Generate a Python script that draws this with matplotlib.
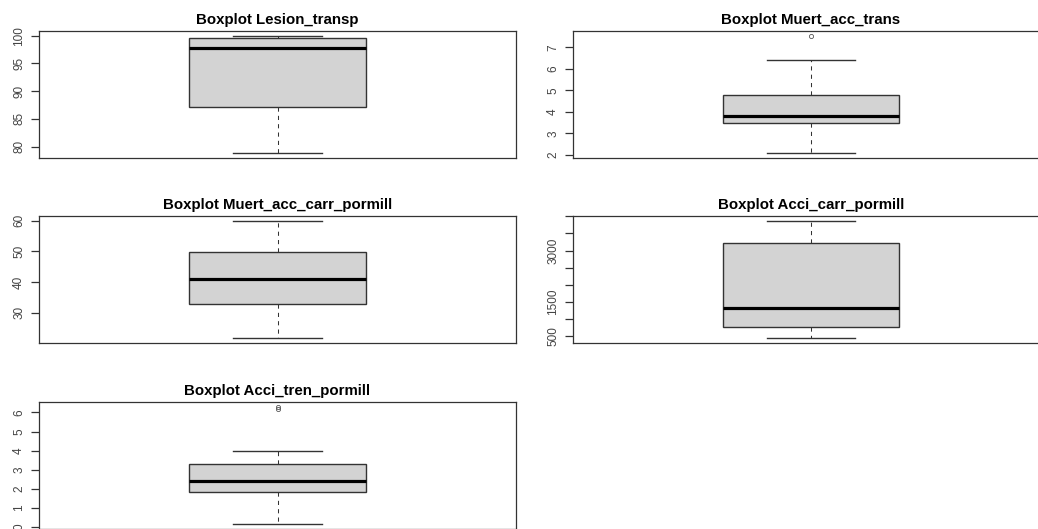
import matplotlib
matplotlib.use("Agg")
import matplotlib.pyplot as plt

plt.rcParams['font.family'] = ['Liberation Sans', 'DejaVu Sans']

titles = ["Boxplot Lesion_transp", "Boxplot Muert_acc_trans",
          "Boxplot Muert_acc_carr_pormill", "Boxplot Acci_carr_pormill",
          "Boxplot Acci_tren_pormill"]
whislo = [78.8, 2.08, 21.7, 442, 0.14]
q1 = [87.2, 3.47, 33.0, 773, 1.83]
med = [97.7, 3.79, 41.0, 1328, 2.39]
q3 = [99.5, 4.78, 49.9, 3221, 3.28]
whishi = [100.0, 6.41, 60.0, 3873, 4.0]
fliers = [[], [7.54], [], [], [6.18, 6.30]]
ytick_vals = [[80, 85, 90, 95, 100],
              [2, 3, 4, 5, 6, 7],
              [30, 40, 50, 60],
              [500, 1000, 1500, 2000, 2500, 3000, 3500, 4000],
              [0, 1, 2, 3, 4, 5, 6]]
ytick_labels = [["80", "85", "90", "95", "100"],
                ["2", "3", "4", "5", "6", "7"],
                ["30", "40", "50", "60"],
                ["500", "", "1500", "", "", "3000", "", ""],
                ["0", "1", "2", "3", "4", "5", "6"]]

W, H = 1038, 529
fig = plt.figure(figsize=(W / 100, H / 100), dpi=100)

# axes boxes in pixels: (left, right, top, bottom)
cols = [(39, 516), (573, 1049)]
rows = [(31, 158), (216, 343), (402, 529)]
pos = [(0, 0), (0, 1), (1, 0), (1, 1), (2, 0)]

frame_col = '#333333'
for i, (r, c) in enumerate(pos):
    l, rr = cols[c]
    t, b = rows[r]
    ax = fig.add_axes([l / W, 1 - b / H, (rr - l) / W, (b - t) / H])
    stats = [dict(med=med[i], q1=q1[i], q3=q3[i], whislo=whislo[i],
                  whishi=whishi[i], fliers=fliers[i])]
    ax.bxp(stats, positions=[1], widths=0.4, capwidths=0.2,
           patch_artist=True,
           boxprops=dict(facecolor='#d3d3d3', edgecolor=frame_col, linewidth=1.0),
           medianprops=dict(color='black', linewidth=2.3, solid_capstyle='butt'),
           whiskerprops=dict(color=frame_col, linewidth=0.75, linestyle=(0, (4, 4))),
           capprops=dict(color=frame_col, linewidth=1.0),
           flierprops=dict(marker='o', markersize=3.0, markerfacecolor='none',
                           markeredgecolor='#555555', markeredgewidth=0.6))
    allv = [whislo[i], whishi[i]] + fliers[i]
    lo, hi = min(allv), max(allv)
    pad = 0.04 * (hi - lo)
    ax.set_ylim(lo - pad, hi + pad)
    ax.set_xlim(0.46, 1.54)
    ax.set_xticks([])
    ax.set_yticks(ytick_vals[i])
    ax.set_yticklabels(ytick_labels[i], rotation=90, va='center',
                       fontsize=8.5, color='#444444')
    ax.tick_params(axis='y', length=6, width=0.9, color=frame_col, pad=4)
    for sp in ax.spines.values():
        sp.set_color(frame_col)
        sp.set_linewidth(0.9)
    ax.set_title(titles[i], fontsize=10.8, fontweight='bold', pad=5)

fig.savefig("out.png", dpi=100)
